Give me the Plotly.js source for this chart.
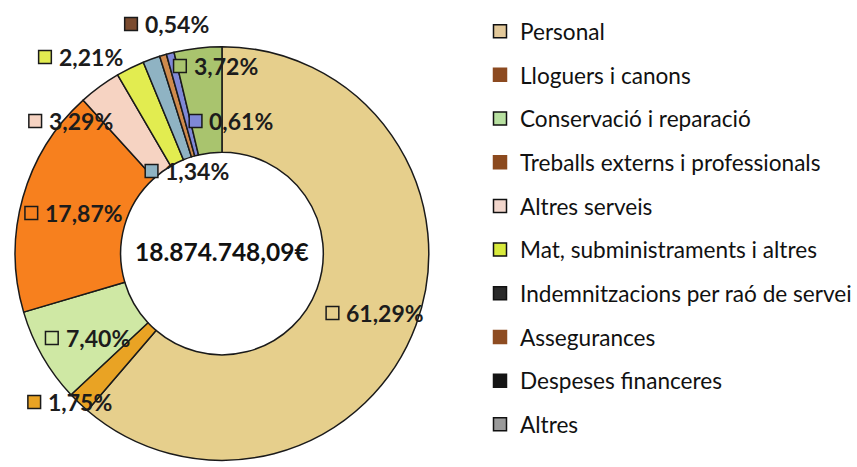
<!DOCTYPE html>
<html>
<head>
<meta charset="utf-8">
<script src="https://cdn.plot.ly/plotly-3.0.1.min.js"></script>
<style>html,body{margin:0;padding:0;background:#fff;}#chart{width:857px;height:467px;}</style>
</head>
<body>
<div id="chart"></div>
<script>
// ---- data ----
const categories = ["Personal", "Lloguers i canons", "Conservació i reparació",
  "Treballs externs i professionals", "Altres serveis", "Mat, subministraments i altres",
  "Indemnitzacions per raó de servei", "Assegurances", "Despeses financeres", "Altres"];
const shares = [61.29, 1.75, 7.40, 17.87, 3.29, 2.21, 1.34, 0.54, 0.61, 3.72];
const totalText = "18.874.748,09€";

// ---- styles ----
const sliceColors = ["#e6cf8c", "#e9a324", "#cfe8a4", "#f7801e", "#f6d3c2",
  "#e2ec50", "#8fb3c3", "#cf8a4c", "#7f88d6", "#a9c46e"];
const labelMarkerColors = ["#e6cf8c", "#e9a324", "#cfe8a4", "#f7801e", "#f6d3c2",
  "#e2ec50", "#8fb3c3", "#7b4b2f", "#7f88d6", "#a9c46e"];
const legendColors = ["#e3c99a", "#8c4a20", "#b7e0a0", "#8c4a1e", "#f2d6cc",
  "#d8ea3c", "#2a2a2a", "#8e4c22", "#141414", "#9a9a9a"];
const legendBorders = ["#111", "#8c4a20", "#111", "#8c4a1e", "#111",
  "#111", "#111", "#8e4c22", "#141414", "#111"];
// label marker centre positions in pixels
const labelPos = [[340,313],[35,402],[53,338],[32,213],[36,121],[46,57],[155,171],[134,24],[200,121],[184,66]];

const W = 857, H = 467;
const px = x => x / W, py = y => 1 - y / H;

const traces = [{
  type: 'pie',
  labels: categories,
  values: shares,
  sort: false,
  direction: 'clockwise',
  rotation: 0,
  hole: 0.49,
  textinfo: 'none',
  hoverinfo: 'label+percent',
  showlegend: false,
  marker: {colors: sliceColors, line: {color: '#1a1a1a', width: 1.5}},
  domain: {x: [px(15.5), px(438.5)], y: [py(465), py(42)]}
}];

categories.forEach((c, i) => {
  traces.push({
    type: 'scatter', mode: 'markers', x: [null], y: [null],
    name: c, legendgroup: 'g' + i, showlegend: true, hoverinfo: 'skip',
    marker: {symbol: 'square', size: 13, color: legendColors[i],
             line: {color: legendBorders[i], width: 1.5}}
  });
});

const shapes = [], annotations = [];
const S = 6.5;
shares.forEach((v, i) => {
  const [mx, my] = labelPos[i];
  shapes.push({type: 'rect', xref: 'paper', yref: 'paper',
    x0: px(mx - S), x1: px(mx + S), y0: py(my + S), y1: py(my - S),
    fillcolor: labelMarkerColors[i], line: {color: '#1a1a1a', width: 1.5}});
  annotations.push({xref: 'paper', yref: 'paper', x: px(mx + 12), y: py(my),
    xanchor: 'left', yanchor: 'middle', showarrow: false,
    text: '<b>' + v.toFixed(2).replace('.', ',') + '%</b>',
    font: {family: 'Lato, sans-serif', size: 23, color: '#1c1c1c'}});
});
annotations.push({xref: 'paper', yref: 'paper', x: px(227), y: py(252),
  xanchor: 'center', yanchor: 'middle', showarrow: false,
  text: '<b>' + totalText + '</b>',
  font: {family: 'Lato, sans-serif', size: 24.5, color: '#111'}});

const layout = {
  width: W, height: H,
  margin: {l: 0, r: 0, t: 0, b: 0},
  paper_bgcolor: '#fff', plot_bgcolor: '#fff',
  xaxis: {visible: false}, yaxis: {visible: false},
  showlegend: true,
  legend: {x: px(491), y: py(10), xanchor: 'left', yanchor: 'top',
    entrywidthmode: 'pixels', entrywidth: 290,
    font: {family: 'Lato, sans-serif', size: 22.6, color: '#111'},
    tracegroupgap: 11.3, bgcolor: 'rgba(0,0,0,0)'},
  shapes: shapes, annotations: annotations
};

Plotly.newPlot('chart', traces, layout, {displayModeBar: false, staticPlot: true});
</script>
</body>
</html>
